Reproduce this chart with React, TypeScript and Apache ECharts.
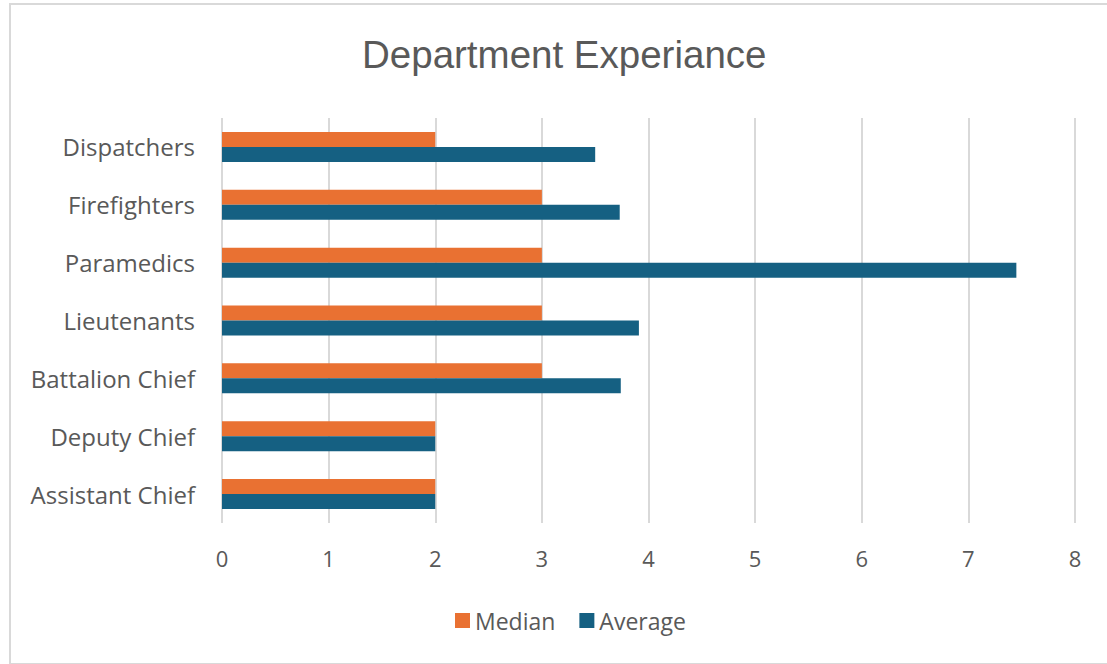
import React, { useEffect, useRef } from "react";
import * as echarts from "echarts";

const categories = [
  "Assistant Chief",
  "Deputy Chief",
  "Battalion Chief",
  "Lieutenants",
  "Paramedics",
  "Firefighters",
  "Dispatchers",
];
const medianValues = [2, 2, 3, 3, 3, 3, 2];
const averageValues = [2, 2, 3.74, 3.91, 7.45, 3.73, 3.5];
const xTicks = { min: 0, max: 8, interval: 1 };

const FONT = "'Open Sans', Lato, sans-serif";
const TEXT = "#595959";

export default function App() {
  const ref = useRef<HTMLDivElement>(null);
  useEffect(() => {
    if (!ref.current) return;
    const chart = echarts.init(ref.current, undefined, { renderer: "svg" });
    chart.setOption({
      animation: false,
      backgroundColor: "#ffffff",
      title: {
        text: "Department Experiance",
        left: 362,
        top: 35,
        padding: 0,
        textStyle: {
          fontFamily: "'Liberation Sans Narrow', 'Liberation Sans', sans-serif",
          fontWeight: "normal",
          fontSize: 38.5,
          color: TEXT,
        },
      },
      graphic: [
        {
          type: "rect",
          shape: { x: 10, y: 4, width: 1100, height: 660 },
          style: { fill: "none", stroke: "#d9d9d9", lineWidth: 2 },
          silent: true,
        },
      ],
      legend: {
        data: ["Median", "Average"],
        bottom: 27,
        left: 450,
        itemWidth: 15,
        itemHeight: 15,
        itemGap: 24,
        icon: "rect",
        textStyle: { fontFamily: FONT, fontSize: 23, color: TEXT },
      },
      grid: { left: 222, right: 32, top: 118, bottom: 141, containLabel: false },
      xAxis: {
        type: "value",
        min: xTicks.min,
        max: xTicks.max,
        interval: xTicks.interval,
        axisLine: { show: false },
        axisTick: { show: false },
        axisLabel: { fontFamily: FONT, fontSize: 22, color: TEXT, margin: 24 },
        splitLine: { show: true, lineStyle: { color: "#d9d9d9", width: 2 } },
      },
      yAxis: {
        type: "category",
        data: categories,
        axisLine: { show: false },
        axisTick: { show: false },
        axisLabel: { fontFamily: FONT, fontSize: 24, color: TEXT, margin: 27 },
      },
      series: [
        {
          name: "Median",
          type: "bar",
          data: medianValues,
          barWidth: 15,
          barGap: "0%",
          itemStyle: { color: "#E97132" },
        },
        {
          name: "Average",
          type: "bar",
          data: averageValues,
          barWidth: 15,
          barGap: "0%",
          itemStyle: { color: "#156082" },
        },
      ],
    });
    return () => chart.dispose();
  }, []);
  return (
    <div
      ref={ref}
      style={{ position: "absolute", left: 0, top: 0, width: 1107, height: 664 }}
    />
  );
}
